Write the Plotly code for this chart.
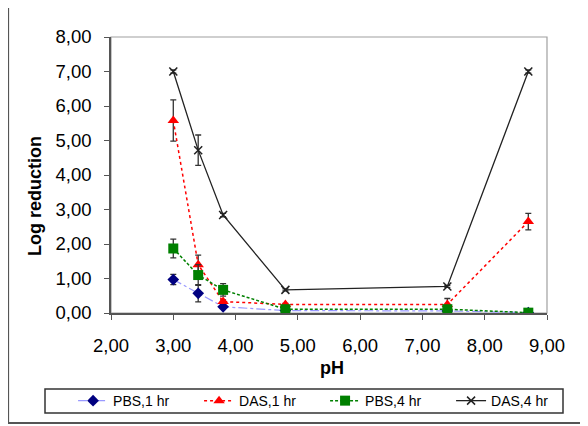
import plotly.graph_objects as go

ph = [3.0, 3.4, 3.8, 4.8, 7.4, 8.7]

pbs_1hr = [0.97, 0.57, 0.18, 0.07, 0.06, 0.01]
pbs_1hr_err = [0.15, 0.25, 0.03, 0.0, 0.0, 0.0]

das_1hr = [5.58, 1.40, 0.33, 0.25, 0.25, 2.65]
das_1hr_err = [0.6, 0.28, 0.05, 0.03, 0.17, 0.24]

pbs_4hr = [1.87, 1.10, 0.67, 0.11, 0.11, 0.01]
pbs_4hr_err = [0.27, 0.3, 0.18, 0.03, 0.03, 0.0]

das_4hr = [7.0, 4.72, 2.84, 0.67, 0.77, 7.0]
das_4hr_err = [0.05, 0.44, 0.05, 0.03, 0.03, 0.05]

series_names = ["PBS,1 hr", "DAS,1 hr", "PBS,4 hr", "DAS,4 hr"]

x_ticks = [2, 3, 4, 5, 6, 7, 8, 9]
y_ticks = [0, 1, 2, 3, 4, 5, 6, 7, 8]

FONT = "Liberation Sans, Arial, sans-serif"

def err(vals):
    return dict(type="data", array=vals, visible=True, color="#333333",
                thickness=1.3, width=3)

fig = go.Figure()
fig.add_trace(go.Scatter(
    x=ph, y=pbs_1hr, name=series_names[0], mode="lines+markers",
    line=dict(color="#9999ff", width=1.2, dash="dashdot"),
    marker=dict(symbol="diamond", color="#000080", size=9),
    error_y=err(pbs_1hr_err)))
fig.add_trace(go.Scatter(
    x=ph, y=das_1hr, name=series_names[1], mode="lines+markers",
    line=dict(color="#ff0000", width=1.5, dash="dot"),
    marker=dict(symbol="triangle-up", color="#ff0000", size=10),
    error_y=err(das_1hr_err)))
fig.add_trace(go.Scatter(
    x=ph, y=pbs_4hr, name=series_names[2], mode="lines+markers",
    line=dict(color="#008000", width=1.5, dash="3px,2px"),
    marker=dict(symbol="square", color="#008000", size=10),
    error_y=err(pbs_4hr_err)))
fig.add_trace(go.Scatter(
    x=ph, y=das_4hr, name=series_names[3], mode="lines+markers",
    line=dict(color="#222222", width=1.3),
    marker=dict(symbol="x-thin-open", color="#222222", size=8,
                line=dict(width=1.5, color="#222222")),
    error_y=err(das_4hr_err)))

fig.update_layout(
    width=588, height=426,
    margin=dict(l=103, r=49, t=29, b=121, autoexpand=False),
    paper_bgcolor="white", plot_bgcolor="white",
    separators=",.",
    font=dict(family=FONT, color="black", size=18),
    showlegend=True,
    legend=dict(orientation="h", x=-0.087, y=-0.319, xanchor="left", yanchor="middle",
                borderwidth=0, bgcolor="rgba(0,0,0,0)",
                font=dict(size=14, family=FONT),
                entrywidth=81, itemwidth=30, tracegroupgap=0,
                traceorder="normal"),
    xaxis=dict(range=[2, 9], tickvals=x_ticks, tickformat=".2f",
               showgrid=False, zeroline=False, showline=True,
               linecolor="#555555", linewidth=1.5,
               ticks="outside", ticklen=5, tickcolor="#555555",
               ticklabelstandoff=10,
               tickfont=dict(size=18.5)),
    yaxis=dict(range=[0, 8], tickvals=y_ticks, tickformat=".2f",
               showgrid=False, zeroline=False, showline=True,
               linecolor="#555555", linewidth=1.5,
               ticks="outside", ticklen=5, tickcolor="#555555",
               ticklabelstandoff=9,
               tickfont=dict(size=18.5)),
    annotations=[
        dict(text="<b>pH</b>", xref="paper", yref="paper", x=0.507, y=-0.199,
             xanchor="center", yanchor="middle", showarrow=False,
             font=dict(size=18, family=FONT)),
        dict(text="<b>Log reduction</b>", xref="paper", yref="paper",
             x=(35 - 111) / 436, y=0.424, textangle=-90,
             xanchor="center", yanchor="middle", showarrow=False,
             font=dict(size=18, family=FONT)),
    ],
    shapes=[
        dict(type="rect", xref="paper", yref="paper", x0=0, x1=1, y0=0, y1=1,
             line=dict(color="#a0a0a0", width=1.2), layer="below"),
        dict(type="rect", xref="paper", yref="paper", x0=-0.236, x1=1.2,
             y0=-0.399, y1=1.116, line=dict(color="#555555", width=2)),
        dict(type="rect", xref="paper", yref="paper", x0=(45 - 111) / 436,
             x1=(563 - 111) / 436, y0=(313 - 413) / 276, y1=(313 - 389) / 276,
             line=dict(color="#333333", width=1.5)),
    ],
)

fig.write_html("out.html")
